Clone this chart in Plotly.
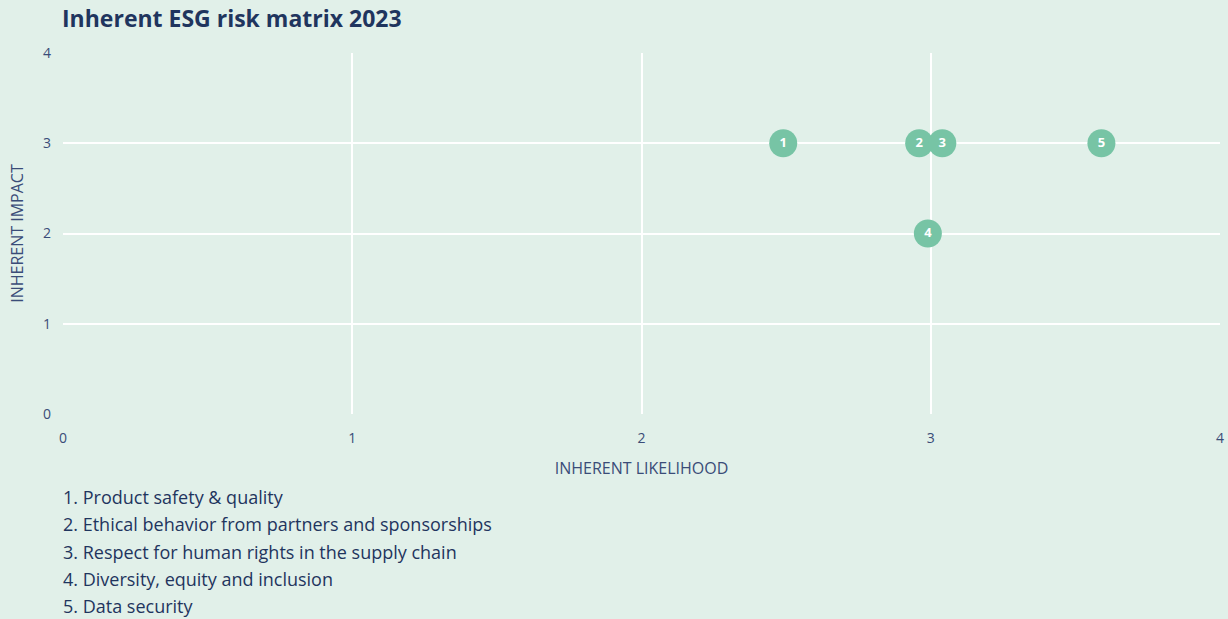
import plotly.graph_objects as go

# Risk matrix data
risk_ids = ["1", "2", "3", "4", "5"]
risk_names = [
    "Product safety & quality",
    "Ethical behavior from partners and sponsorships",
    "Respect for human rights in the supply chain",
    "Diversity, equity and inclusion",
    "Data security",
]
likelihood = [2.49, 2.96, 3.04, 2.99, 3.59]
impact = [3, 3, 3, 2, 3]

BG = "#e1f0e9"
NAVY = "#1f355e"
TEXT = "#3a4c78"
GREEN = "#77c4a5"
FONT = "Open Sans, sans-serif"

fig = go.Figure()
fig.add_trace(go.Scatter(
    x=likelihood, y=impact, mode="markers+text",
    text=risk_ids, textposition="middle center",
    textfont=dict(color="white", size=13, family=FONT, weight="bold"),
    marker=dict(size=28, color=GREEN, line=dict(width=0)),
    hoverinfo="skip", showlegend=False, cliponaxis=False,
))

axis_common = dict(
    range=[0, 4], dtick=1, showgrid=True, gridcolor="white", gridwidth=2,
    zeroline=False, showline=False, automargin=False,
    tickfont=dict(size=14, color=TEXT, family=FONT),
)
fig.update_xaxes(**axis_common, ticklabelstandoff=14,
                 title=dict(text="INHERENT LIKELIHOOD", font=dict(size=16, color=TEXT, family=FONT), standoff=16))
fig.update_yaxes(**axis_common, ticklabelstandoff=11,
                 title=dict(text="INHERENT IMPACT", font=dict(size=16, color=TEXT, family=FONT), standoff=15))

# Numbered legend list below the chart
plot_top, plot_bottom = 53, 414
plot_h = plot_bottom - plot_top
for i, (rid, name) in enumerate(zip(risk_ids, risk_names)):
    ypix = 497 + i * 27.3
    fig.add_annotation(
        xref="paper", yref="paper", x=0, y=(plot_bottom - ypix) / plot_h,
        xanchor="left", yanchor="middle", xshift=-2, showarrow=False,
        text=f"{rid}. {name}", font=dict(size=18, color=NAVY, family=FONT),
    )

fig.update_layout(
    width=1228, height=619,
    margin=dict(l=63, r=8, t=plot_top, b=619 - plot_bottom),
    paper_bgcolor=BG, plot_bgcolor=BG,
    title=dict(text="<b>Inherent ESG risk matrix 2023</b>", x=62 / 1228, xref="container", xanchor="left",
               y=1 - 19 / 619, yanchor="middle", yref="container",
               font=dict(size=23, color=NAVY, family=FONT)),
)

fig.write_html("out.html")
